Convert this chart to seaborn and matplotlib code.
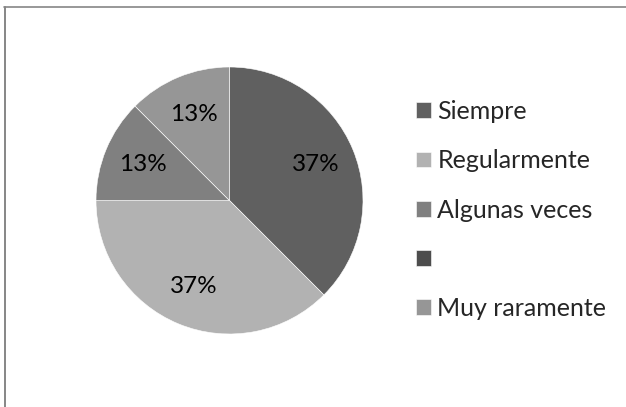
import matplotlib
matplotlib.use("Agg")
import matplotlib.pyplot as plt
from matplotlib.lines import Line2D
import seaborn as sns

# data
categories = ["Siempre", "Regularmente", "Algunas veces", "", "Muy raramente"]
shares = [37.5, 37.5, 12.5, 0, 12.5]
pct_labels = ["37%", "37%", "13%", "", "13%"]
colours = ["#606060", "#b2b2b2", "#808080", "#4d4d4d", "#969696"]

sns.set_style("white")
plt.rcParams["font.family"] = ["Lato", "DejaVu Sans"]

W, H = 626, 407
fig = plt.figure(figsize=(W / 100, H / 100), dpi=100)

# pie axes: centre (229.5, 200.5) px, radius 133.5 px
cx, cy, r = 229.5, 200.5, 133.5
ax = fig.add_axes([(cx - r) / W, (H - cy - r) / H, 2 * r / W, 2 * r / H])

wedges, _, autotexts = ax.pie(
    shares, colors=colours, startangle=90, counterclock=False,
    autopct=lambda p: "", pctdistance=0.7,
    wedgeprops=dict(edgecolor="white", linewidth=0.4),
    textprops=dict(fontsize=17.5, color="black"),
)
for t, lab in zip(autotexts, pct_labels):
    t.set_text(lab)

ax.set_xlim(-1, 1)
ax.set_ylim(-1, 1)
ax.set_aspect("equal")

fig.legend(
    wedges, categories, loc="center left",
    bbox_to_anchor=(416 / W, 1 - 210 / H),
    frameon=False, fontsize=18, handlelength=0.6, handleheight=0.6,
    handletextpad=0.25, labelspacing=1.05, borderpad=0, borderaxespad=0,
)

# chart frame (top and left edges only visible)
fig.add_artist(Line2D([4 / W, 1], [1 - 6.5 / H, 1 - 6.5 / H],
                      transform=fig.transFigure, color="#868686", lw=1.2))
fig.add_artist(Line2D([5.3 / W, 5.3 / W], [0, 1 - 6.5 / H],
                      transform=fig.transFigure, color="#868686", lw=1.4))

fig.savefig("out.png", dpi=100)
